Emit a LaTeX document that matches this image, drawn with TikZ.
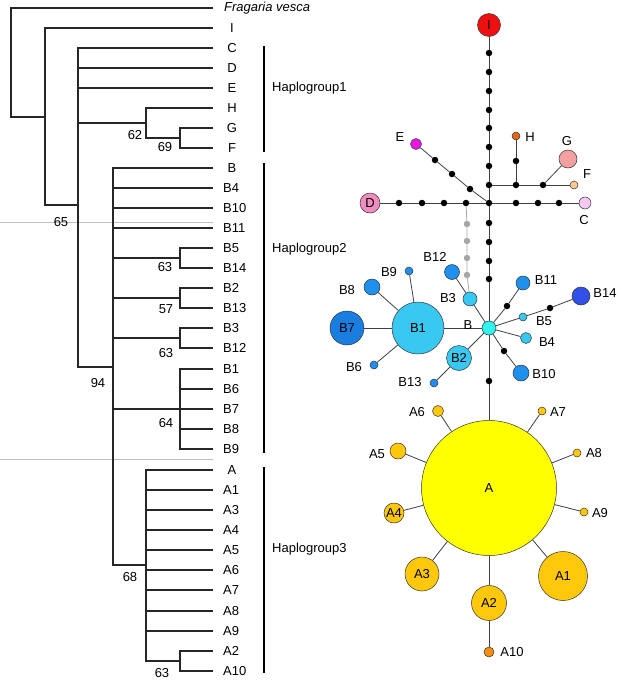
\documentclass[tikz,border=0pt]{standalone}
\usepackage{fontspec}
\setmainfont{Liberation Sans}
\definecolor{cI}{HTML}{EE1010}
\definecolor{cD}{HTML}{F08CC0}
\definecolor{cC}{HTML}{F4C8F0}
\definecolor{cE}{HTML}{E818E0}
\definecolor{cH}{HTML}{E06818}
\definecolor{cG}{HTML}{F4A0A0}
\definecolor{cF}{HTML}{F8C890}
\definecolor{cB}{HTML}{30F4F0}
\definecolor{cBl}{HTML}{38C8F2}
\definecolor{cBm}{HTML}{2090EE}
\definecolor{cBd}{HTML}{1A7EE0}
\definecolor{cBx}{HTML}{3050E8}
\definecolor{cA}{HTML}{FFFF00}
\definecolor{cAg}{HTML}{FFC80A}
\definecolor{cAo}{HTML}{F09010}
\begin{document}
\begin{tikzpicture}[x=1pt,y=-1pt,
  every node/.style={font=\fontsize{13}{15}\selectfont},
  tree/.style={draw=black!85,line width=1.1pt},
  bar/.style={draw=black,line width=2pt},
  art/.style={draw=black!25,line width=0.6pt},
  conn/.style={draw=black!75,line width=0.8pt},
  gconn/.style={draw=black!35,line width=0.8pt},
  mdot/.style={circle,fill=black,minimum size=6.5pt,inner sep=0pt},
  gdot/.style={circle,fill=black!35,minimum size=6.5pt,inner sep=0pt},
  hap/.style={circle,draw=black!80,line width=0.5pt,inner sep=0pt,minimum size=#1},
  lab/.style={inner sep=0pt}
]
\useasboundingbox (0,0) rectangle (622,681);
% faint artefact lines
\draw[art] (0,222) -- (213,222);
\draw[art] (0,459) -- (213,459);
% ---------------- tree ----------------
\draw[tree] (213,8) -- (11,8) -- (11,117) -- (45,117);
\draw[tree] (213,28) -- (45,28) -- (45,205) -- (78,205);
\draw[tree] (213,48) -- (78,48) -- (78,367) -- (113,367);
\draw[tree] (78,68) -- (213,68);
\draw[tree] (78,88) -- (213,88);
\draw[tree] (78,123) -- (146,123);
\draw[tree] (213,108) -- (146,108) -- (146,138) -- (180,138);
\draw[tree] (213,128) -- (180,128) -- (180,148) -- (213,148);
% haplogroup 2
\draw[tree] (213,168) -- (113,168) -- (113,565) -- (146,565);
\foreach \y in {188,208,228,409} \draw[tree] (113,\y) -- (213,\y);
\draw[tree] (113,258) -- (180,258);
\draw[tree] (213,248) -- (180,248) -- (180,268) -- (213,268);
\draw[tree] (113,298) -- (180,298);
\draw[tree] (213,288) -- (180,288) -- (180,308) -- (213,308);
\draw[tree] (113,338) -- (180,338);
\draw[tree] (213,328) -- (180,328) -- (180,348) -- (213,348);
\draw[tree] (213,369) -- (180,369) -- (180,449) -- (213,449);
\foreach \y in {389,429} \draw[tree] (180,\y) -- (213,\y);
% haplogroup 3
\draw[tree] (213,470) -- (146,470) -- (146,661) -- (180,661);
\foreach \y in {490,510,530,550,570,590,611,631} \draw[tree] (146,\y) -- (213,\y);
\draw[tree] (213,651) -- (180,651) -- (180,671) -- (213,671);
% support values
\node[lab] (s62) at (135,135) {62};
\node[lab] (s69) at (165,147) {69};
\node[lab] (s65) at (61,222) {65};
\node[lab] (s63a) at (165,267) {63};
\node[lab] (s57) at (166,309) {57};
\node[lab] (s63b) at (166,353) {63};
\node[lab] (s94) at (98,383) {94};
\node[lab] (s64) at (166,423) {64};
\node[lab] (s68) at (130,577) {68};
\node[lab] (s63c) at (162,673) {63};
% leaf labels
\node[lab,anchor=west] (lFv) at (224,8) {\itshape Fragaria vesca};
\foreach \n/\y in {I/28,C/48,D/68,E/88,H/108,G/128,F/148,B/168,A/470}
  \node[lab] (l\n) at (232,\y) {\n};
\foreach \n/\y in {B4/188,B10/208,B11/228,B5/248,B14/268,B2/288,B13/308,B3/328,B12/348,B1/369,B6/389,B7/409,B8/429,B9/449,A1/490,A3/510,A4/530,A5/550,A6/570,A7/590,A8/611,A9/631,A2/651,A10/671}
  \node[lab,anchor=west] (l\n) at (223,\y) {\n};
% haplogroup bars
\draw[bar] (264,46) -- (264,152);
\draw[bar] (264,163) -- (264,453);
\draw[bar] (264,467) -- (264,673);
\node[lab,anchor=west] (hg1) at (272,88) {Haplogroup1};
\node[lab,anchor=west] (hg2) at (272,249) {Haplogroup2};
\node[lab,anchor=west] (hg3) at (272,549) {Haplogroup3};
% ---------------- network ----------------
% main vertical
\node[hap=23pt,fill=cI] (I) at (489,25) {I};
\foreach \i/\y in {1/53,2/72,3/91,4/110,5/128,6/147,7/166,8/185,10/223,11/242,12/261,13/279,14/381}
  \node[mdot] (v\i) at (489,\y) {};
\node[mdot] (J) at (489,203) {};
\node[hap=14pt,fill=cB] (B) at (489,328) {};
\node[hap=135pt,fill=cA] (A) at (489,488) {A};
\draw[conn] (I) -- (v1) -- (v2) -- (v3) -- (v4) -- (v5) -- (v6) -- (v7) -- (v8) -- (J) -- (v10) -- (v11) -- (v12) -- (v13) -- (B) -- (v14) -- (A);
% horizontal D - C
\node[hap=20pt,fill=cD] (D) at (370,203) {D};
\node[hap=12pt,fill=cC] (C) at (585,203) {};
\foreach \i/\x in {1/399,2/422,3/444,4/466,5/516,6/538,7/559}
  \node[mdot] (h\i) at (\x,203) {};
\draw[conn] (D) -- (h1) -- (h2) -- (h3) -- (h4) -- (J) -- (h5) -- (h6) -- (h7) -- (C);
% F / G / H branch
\node[mdot] (f1) at (516,185) {};
\node[mdot] (f2) at (543,185) {};
\node[mdot] (hd) at (516,161) {};
\node[hap=8pt,fill=cF] (F) at (574,185) {};
\node[hap=8pt,fill=cH] (H) at (516,136) {};
\node[hap=18pt,fill=cG] (G) at (568,159) {};
\draw[conn] (v8) -- (f1) -- (f2) -- (F);
\draw[conn] (f1) -- (hd) -- (H);
\draw[conn] (f2) -- (G);
% E branch
\node[mdot] (e3) at (470,189) {};
\node[mdot] (e2) at (452,174) {};
\node[mdot] (e1) at (435,160) {};
\node[hap=11pt,fill=cE] (E) at (416,144) {};
\draw[conn] (J) -- (e3) -- (e2) -- (e1) -- (E);
% grey branch
\node[gdot] (g1) at (467,224) {};
\node[gdot] (g2) at (467,241) {};
\node[gdot] (g3) at (467,258) {};
\node[gdot] (g4) at (467,275) {};
\node[hap=14pt,fill=cBl] (B3) at (470,299) {};
\draw[gconn] (h4) -- (g1) -- (g2) -- (g3) -- (g4) -- (B3);
% B cluster
\node[hap=52pt,fill=cBl] (B1) at (418,328) {B1};
\node[hap=34pt,fill=cBd] (B7) at (347,328) {B7};
\node[hap=16pt,fill=cBm] (B8) at (372,287) {};
\node[hap=8pt,fill=cBm] (B9) at (409,271) {};
\node[hap=8pt,fill=cBm] (B6) at (374,365) {};
\node[hap=15pt,fill=cBm] (B12) at (452,272) {};
\node[hap=25pt,fill=cBl] (B2) at (459,358) {B2};
\node[hap=8pt,fill=cBm] (B13) at (434,383) {};
\node[hap=14pt,fill=cBm] (B11) at (523,283) {};
\node[mdot] (b11d) at (507,306) {};
\node[hap=8pt,fill=cBl] (B5) at (523,317) {};
\node[mdot] (b14d) at (550,308) {};
\node[hap=18pt,fill=cBx] (B14) at (581,296) {};
\node[hap=11pt,fill=cBl] (B4) at (526,338) {};
\node[mdot] (b10d) at (504,351) {};
\node[hap=16pt,fill=cBm] (B10) at (521,373) {};
\draw[conn] (B7) -- (B1) -- (B);
\draw[conn] (B8) -- (B1);
\draw[conn] (B9) -- (B1);
\draw[conn] (B6) -- (B1);
\draw[conn] (B12) -- (B3) -- (B);
\draw[conn] (B) -- (B2) -- (B13);
\draw[conn] (B) -- (b11d) -- (B11);
\draw[conn] (B) -- (B5) -- (b14d) -- (B14);
\draw[conn] (B) -- (B4);
\draw[conn] (B) -- (b10d) -- (B10);
% A cluster
\node[hap=11pt,fill=cAg] (A6) at (438,411) {};
\node[hap=8pt,fill=cAg] (A7) at (542,411) {};
\node[hap=16pt,fill=cAg] (A5) at (398,451) {};
\node[hap=8pt,fill=cAg] (A8) at (577,453) {};
\node[hap=20pt,fill=cAg] (A4) at (394,513) {A4};
\node[hap=8pt,fill=cAg] (A9) at (584,512) {};
\node[hap=34pt,fill=cAg] (A3) at (422,574) {A3};
\node[hap=35pt,fill=cAg] (A2) at (489,603) {A2};
\node[hap=49pt,fill=cAg] (A1) at (563,576) {A1};
\node[hap=10pt,fill=cAo] (A10) at (489,652) {};
\foreach \n in {A6,A7,A5,A8,A4,A9,A3,A1} \draw[conn] (A) -- (\n);
\draw[conn] (A) -- (A2) -- (A10);
% network labels
\node[lab] (tE) at (400,137) {E};
\node[lab] (tH) at (530,137) {H};
\node[lab] (tG) at (567,141) {G};
\node[lab] (tF) at (587,174) {F};
\node[lab] (tC) at (584,220) {C};
\node[lab] (tB) at (468,325) {B};
\node[lab] (tB12) at (435,257) {B12};
\node[lab] (tB9) at (389,272) {B9};
\node[lab] (tB8) at (347,290) {B8};
\node[lab] (tB6) at (354,367) {B6};
\node[lab] (tB13) at (410,382) {B13};
\node[lab] (tB3) at (448,298) {B3};
\node[lab] (tB11) at (546,280) {B11};
\node[lab] (tB14) at (605,293) {B14};
\node[lab] (tB5) at (544,321) {B5};
\node[lab] (tB4) at (547,342) {B4};
\node[lab] (tB10) at (544,374) {B10};
\node[lab] (tA6) at (417,412) {A6};
\node[lab] (tA7) at (558,412) {A7};
\node[lab] (tA5) at (377,454) {A5};
\node[lab] (tA8) at (594,453) {A8};
\node[lab] (tA9) at (600,513) {A9};
\node[lab] (tA10) at (512,652) {A10};
\end{tikzpicture}
\end{document}
